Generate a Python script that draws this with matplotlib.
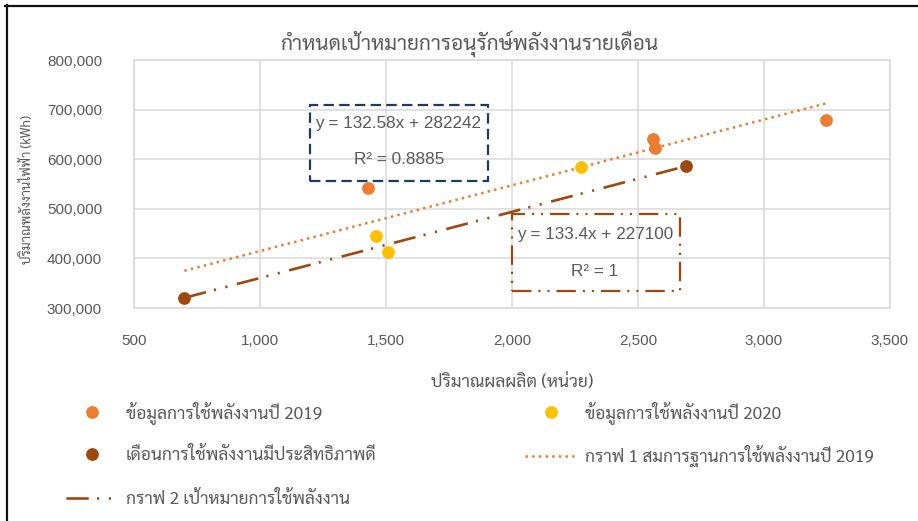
import matplotlib
matplotlib.use("Agg")
import matplotlib.pyplot as plt
from matplotlib.lines import Line2D
from matplotlib.patches import Rectangle
from matplotlib.ticker import FuncFormatter, MultipleLocator
import numpy as np

plt.rcParams["lines.scale_dashes"] = False

# ---- data -------------------------------------------------------------
x_2019 = [1427, 2561, 2567, 3246]
y_2019 = [541000, 640000, 622000, 680000]

x_2020 = [1460, 1509, 2272]
y_2020 = [445000, 413000, 585000]

x_good = [700, 2690]
y_good = [320000, 586000]

# trend lines: y = slope * x + intercept
trend1_slope, trend1_intercept, trend1_r2 = 132.58, 282242, "0.8885"
trend1_range = [700, 3246]
trend2_slope, trend2_intercept, trend2_r2 = 133.4, 227100, "1"
trend2_range = [700, 2690]

title = "กำหนดเป้าหมายการอนุรักษ์พลังงานรายเดือน"
xlabel = "ปริมาณผลผลิต (หน่วย)"
ylabel = "ปริมาณพลังงานไฟฟ้า (kWh)"
lab_2019 = "ข้อมูลการใช้พลังงานปี 2019"
lab_2020 = "ข้อมูลการใช้พลังงานปี 2020"
lab_good = "เดือนการใช้พลังงานมีประสิทธิภาพดี"
lab_t1 = "กราฟ 1 สมการฐานการใช้พลังงานปี 2019"
lab_t2 = "กราฟ 2 เป้าหมายการใช้พลังงาน"

# ---- style ------------------------------------------------------------
C_2019 = "#ED7D31"
C_2020 = "#FFC000"
C_GOOD = "#9E480E"
C_BOX1 = "#203864"
GRID = "#D9D9D9"
TXT = "#595959"
THAI = ["Sarabun", "DejaVu Sans"]
LATIN = ["Liberation Sans", "DejaVu Sans"]
DOTTED = (0, (1.8, 3.0))
DASH_DOT_DOT = (0, (16, 6, 1.5, 7, 1.5, 7))

W, H = 918, 521
fig = plt.figure(figsize=(W / 100, H / 100), dpi=100)


def fx(px):
    return px / W


def fy(py):
    return 1 - py / H


ax = fig.add_axes([fx(134), fy(308), fx(890) - fx(134), fy(60) - fy(308)])

ax.set_xlim(500, 3500)
ax.set_ylim(300000, 800000)
ax.xaxis.set_major_locator(MultipleLocator(500))
ax.yaxis.set_major_locator(MultipleLocator(100000))
ax.xaxis.set_major_formatter(FuncFormatter(lambda v, p: f"{v:,.0f}"))
ax.yaxis.set_major_formatter(FuncFormatter(lambda v, p: f"{v:,.0f}"))
ax.tick_params(length=0, labelsize=11, labelcolor=TXT)
ax.tick_params(axis="y", pad=23)
ax.tick_params(axis="x", pad=19)
for lbl in ax.get_xticklabels() + ax.get_yticklabels():
    lbl.set_family(LATIN)
ax.grid(True, color=GRID, lw=1.1)
ax.set_axisbelow(True)
for s in ax.spines.values():
    s.set_color(GRID)
    s.set_linewidth(1.1)

# trend lines
t1x = np.array(trend1_range, dtype=float)
ax.plot(t1x, trend1_slope * t1x + trend1_intercept, color=C_2019, lw=1.8,
        ls=DOTTED, zorder=2)
t2x = np.array(trend2_range, dtype=float)
ax.plot(t2x, trend2_slope * t2x + trend2_intercept, color=C_GOOD, lw=1.9,
        ls=DASH_DOT_DOT, zorder=2)

# data points
ms = 9.2
ax.plot(x_2019, y_2019, "o", color=C_2019, ms=ms, mec="none", zorder=3)
ax.plot(x_2020, y_2020, "o", color=C_2020, ms=ms, mec="none", zorder=3)
ax.plot(x_good, y_good, "o", color=C_GOOD, ms=ms, mec="none", zorder=3)

# axis labels and title
ax.set_xlabel(xlabel, family=THAI, fontsize=12.6, color=TXT)
ax.xaxis.label.set_va("center")
ax.xaxis.set_label_coords((512 - 134) / 756, (308 - 383) / 248)
fig.text(fx(27), fy(190), ylabel, family=THAI, fontsize=9.4, color=TXT,
         rotation=90, ha="center", va="center")
fig.text(fx(469), fy(45), title, family=THAI, fontsize=15, color=TXT,
         ha="center", va="center")

# equation boxes
fig.add_artist(Rectangle((fx(310), fy(181)), fx(488) - fx(310), fy(105) - fy(181),
                         transform=fig.transFigure, fill=False, ec=C_BOX1,
                         lw=1.6, ls=(0, (7.5, 3.8))))
fig.text(fx(398), fy(124), f"y = {trend1_slope}x + {trend1_intercept}",
         family=LATIN, fontsize=12.3, color=TXT, ha="center", va="center")
fig.text(fx(399), fy(160), f"R² = {trend1_r2}",
         family=LATIN, fontsize=12.3, color=TXT, ha="center", va="center")

fig.add_artist(Rectangle((fx(512), fy(291)), fx(680) - fx(512), fy(214) - fy(291),
                         transform=fig.transFigure, fill=False, ec=C_GOOD,
                         lw=1.6, ls=(0, (14, 5, 1.5, 5, 1.5, 5))))
fig.text(fx(595), fy(234), f"y = {trend2_slope}x + {trend2_intercept}",
         family=LATIN, fontsize=12.3, color=TXT, ha="center", va="center")
fig.text(fx(595), fy(271), f"R² = {trend2_r2}",
         family=LATIN, fontsize=12.3, color=TXT, ha="center", va="center")

# legend entries laid out in two columns, row-major
h_2019 = Line2D([], [], ls="none", marker="o", color=C_2019, ms=ms, mec="none")
h_2020 = Line2D([], [], ls="none", marker="o", color=C_2020, ms=ms, mec="none")
h_good = Line2D([], [], ls="none", marker="o", color=C_GOOD, ms=ms, mec="none")
h_t1 = Line2D([], [], color=C_2019, lw=1.8, ls=DOTTED)
h_t2 = Line2D([], [], color=C_GOOD, lw=1.9, ls=DASH_DOT_DOT)

leg_size = 12.5
leg_kw = dict(loc="center left", frameon=False, handlelength=3.0,
              handletextpad=0.46, borderpad=0, borderaxespad=0,
              prop={"family": THAI, "size": leg_size}, labelcolor=TXT)
entries = [
    (h_2019, lab_2019, 66, 413),
    (h_2020, lab_2020, 525, 413),
    (h_good, lab_good, 66, 456),
    (h_t1, lab_t1, 525, 456),
    (h_t2, lab_t2, 66, 500),
]
for handle, label, px, py in entries:
    fig.legend([handle], [label], bbox_to_anchor=(fx(px), fy(py)), **leg_kw)

# outer frame lines (top and left)
fig.add_artist(Line2D([fx(5), 1], [fy(6), fy(6)], transform=fig.transFigure,
                      color="#111111", lw=1.6))
fig.add_artist(Line2D([fx(7), fx(7)], [fy(5), 0], transform=fig.transFigure,
                      color="#111111", lw=1.6))

fig.savefig("out.png", dpi=100)
